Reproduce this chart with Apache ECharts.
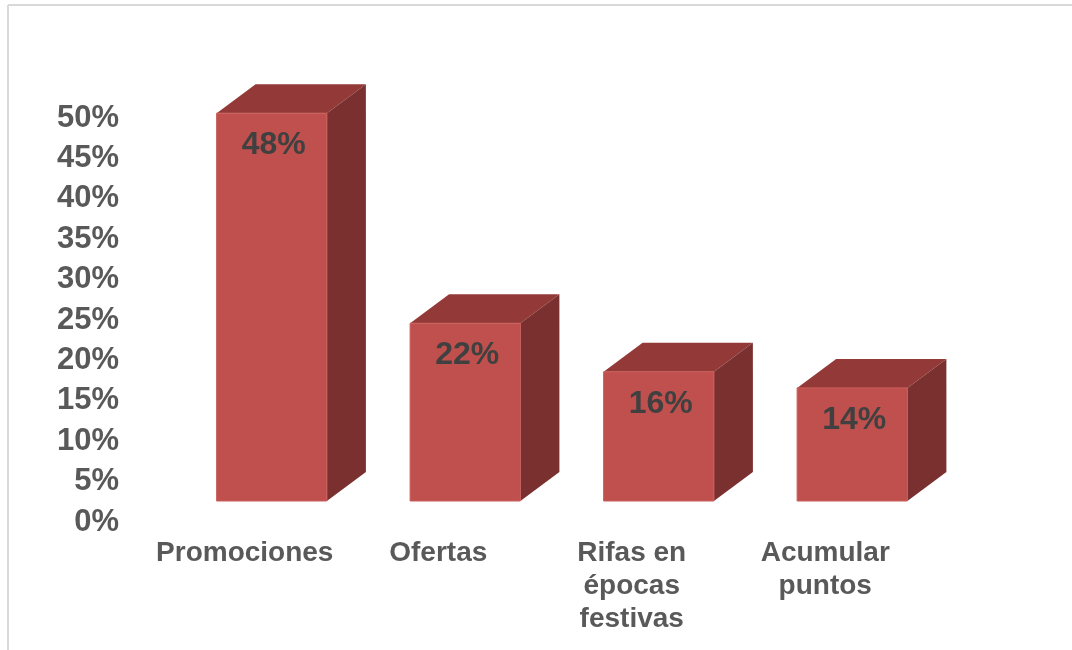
<!DOCTYPE html>
<html>
<head>
<meta charset="utf-8">
<title>Preferencias</title>
<script src="https://cdn.jsdelivr.net/npm/echarts@6/dist/echarts.min.js"></script>
<style>
  html, body { margin: 0; padding: 0; background: #ffffff; }
  #chart { width: 1072px; height: 650px; }
</style>
</head>
<body>
<div id="chart"></div>
<script>
// Categories shown along the bottom (line breaks as printed)
const categories = ['Promociones', 'Ofertas', 'Rifas en\népocas\nfestivas', 'Acumular\npuntos'];
// Share of respondents for each option
const values = [0.48, 0.22, 0.16, 0.14];
// Value axis tick settings
const yMin = 0;
const yMax = 0.5;
const yStep = 0.05;

const FONT = '"Liberation Sans", Arial, sans-serif';
const FRONT = '#C0504D';
const TOP = '#933A38';
const SIDE = '#7B3030';

// Pseudo-3D column geometry (pixels)
const DEPTH_X = 39;
const DEPTH_Y = 29;
const SHIFT_X = 27;
const LIFT = 21;
const WIDTH_RATIO = 0.57;

const chart = echarts.init(document.getElementById('chart'), null, { renderer: 'canvas' });

function renderColumn(params, api) {
  const idx = api.value(0);
  const v = api.value(1);
  const base = api.coord([idx, 0]);
  const top = api.coord([idx, v]);
  const band = api.size([1, 0])[0];
  const w = band * WIDTH_RATIO;
  const cx = base[0] + SHIFT_X;
  const l = cx - w / 2;
  const r = cx + w / 2;
  const y0 = base[1] - LIFT;
  const y1 = top[1] - LIFT;
  return {
    type: 'group',
    children: [
      {
        type: 'polygon',
        shape: { points: [[l, y1], [l + DEPTH_X, y1 - DEPTH_Y], [r + DEPTH_X, y1 - DEPTH_Y], [r, y1]] },
        style: { fill: TOP }
      },
      {
        type: 'polygon',
        shape: { points: [[r, y1], [r + DEPTH_X, y1 - DEPTH_Y], [r + DEPTH_X, y0 - DEPTH_Y], [r, y0]] },
        style: { fill: SIDE }
      },
      {
        type: 'rect',
        shape: { x: l, y: y1, width: w, height: y0 - y1 },
        style: { fill: FRONT, stroke: '#C95F5C', lineWidth: 1 }
      },
      {
        type: 'text',
        x: cx + 2,
        y: y1 + 32,
        style: {
          text: Math.round(v * 100) + '%',
          fill: '#404040',
          font: 'bold 32px ' + FONT,
          align: 'center',
          verticalAlign: 'middle'
        }
      }
    ]
  };
}

chart.setOption({
  animation: false,
  backgroundColor: '#ffffff',
  graphic: [
    { type: 'line', shape: { x1: 8, y1: 5, x2: 1072, y2: 5 }, style: { stroke: '#D9D9D9', lineWidth: 2 } },
    { type: 'line', shape: { x1: 8, y1: 5, x2: 8, y2: 650 }, style: { stroke: '#D9D9D9', lineWidth: 2 } }
  ],
  grid: { left: 148, right: 150, top: 118, bottom: 128, containLabel: false },
  xAxis: {
    type: 'category',
    data: categories,
    axisLine: { show: false },
    axisTick: { show: false },
    splitLine: { show: false },
    axisLabel: {
      interval: 0,
      margin: 15,
      color: '#595959',
      fontFamily: FONT,
      fontWeight: 'bold',
      fontSize: 28,
      lineHeight: 33,
      align: 'center',
      verticalAlign: 'top'
    }
  },
  yAxis: {
    type: 'value',
    min: yMin,
    max: yMax,
    interval: yStep,
    axisLine: { show: false },
    axisTick: { show: false },
    splitLine: { show: false },
    axisLabel: {
      margin: 29,
      color: '#595959',
      fontFamily: FONT,
      fontWeight: 'bold',
      fontSize: 31,
      formatter: (val) => Math.round(val * 100) + '%'
    }
  },
  series: [{
    type: 'custom',
    renderItem: renderColumn,
    encode: { x: 0, y: 1 },
    data: values.map((v, i) => [i, v]),
    clip: false
  }]
});
</script>
</body>
</html>
